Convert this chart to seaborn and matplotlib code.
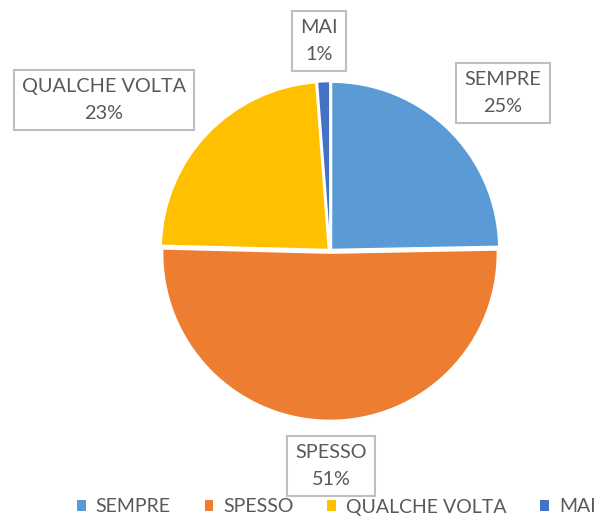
import matplotlib
matplotlib.use("Agg")
import matplotlib.pyplot as plt
from matplotlib.patches import Patch
import seaborn as sns

categories = ["SEMPRE", "SPESSO", "QUALCHE VOLTA", "MAI"]
values = [24.7, 50.7, 23.4, 1.2]
colors = ["#5B9BD5", "#ED7D31", "#FFC000", "#4472C4"]

sns.set_theme(style="white")
plt.rcParams["font.family"] = ["Lato", "DejaVu Sans"]

W, H = 596, 518
fig = plt.figure(figsize=(W / 100, H / 100), dpi=100)
fig.patch.set_facecolor("white")

cx, cy, r = 330, 251, 170
ax = fig.add_axes([(cx - r) / W, (H - cy - r) / H, 2 * r / W, 2 * r / H])
ax.pie(values, colors=sns.color_palette(colors), startangle=90, counterclock=False,
       explode=[0.012] * len(values), radius=0.985,
       wedgeprops=dict(edgecolor="white", linewidth=1.2))
ax.set_xlim(-1.0, 1.0)
ax.set_ylim(-1.0, 1.0)
ax.set_aspect("equal")
ax.axis("off")

# callout labels (pixel positions from top-left)
label_pos = {"SEMPRE": (503, 93), "SPESSO": (331, 466), "QUALCHE VOLTA": (104, 100), "MAI": (319, 41)}
for cat, v in zip(categories, values):
    x, y = label_pos[cat]
    fig.text(x / W, 1 - y / H, f"{cat}\n{round(v)}%", ha="center", va="center", fontsize=14.3,
             color="#595959", linespacing=1.72,
             bbox=dict(boxstyle="square,pad=0.42", facecolor="white", edgecolor="#BFBFBF", linewidth=1.5))

handles = [Patch(facecolor=c, edgecolor="none") for c in colors]
fig.legend(handles, categories, loc="center left", bbox_to_anchor=(77 / W, 1 - 507 / H), ncol=4,
           frameon=False, fontsize=14, labelcolor="#595959", handlelength=0.45, handleheight=0.45,
           columnspacing=1.75, handletextpad=0.5, borderpad=0, borderaxespad=0)

fig.savefig("out.png", dpi=100, facecolor="white")
